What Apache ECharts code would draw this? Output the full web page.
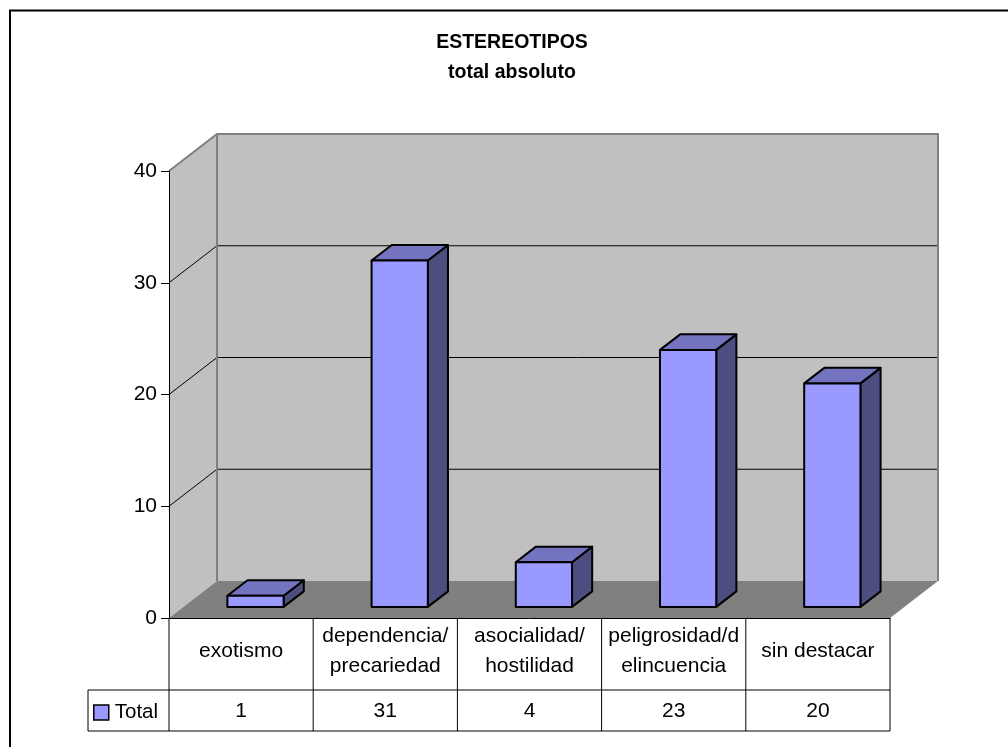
<!DOCTYPE html>
<html>
<head>
<meta charset="utf-8">
<title>ESTEREOTIPOS</title>
<script src="https://cdn.jsdelivr.net/npm/echarts@6/dist/echarts.min.js"></script>
<style>
  html, body { margin: 0; padding: 0; background: #fff; }
  #chart { width: 1008px; height: 747px; }
</style>
</head>
<body>
<div id="chart"></div>
<script>
// Data
const categories = ['exotismo', 'dependencia/\nprecariedad', 'asocialidad/\nhostilidad', 'peligrosidad/d\nelincuencia', 'sin destacar'];
const totals = [1, 31, 4, 23, 20];
const yTicks = [0, 10, 20, 30, 40];
const seriesName = 'Total';
const titleText = 'ESTEREOTIPOS\ntotal absoluto';

// Styling / 3D box geometry
const FONT = '"Liberation Sans", Arial, Helvetica, sans-serif';
const DEPTH_X = 48, DEPTH_Y = -37;          // oblique offset from front plane to back wall
const BAR_FRONT = 0.30, BAR_DEPTH = 0.42;   // bar position inside the floor depth
const BAR_WIDTH = 0.39;                     // fraction of category band
const ROW1 = 72, ROW2 = 113, LEGEND_CELL = 81; // data table rows / legend cell

const yMin = yTicks[0], yMax = yTicks[yTicks.length - 1];

// Walls, floor, gridlines and the data table grid
function renderBox(params, api) {
  const cs = params.coordSys;
  const x0 = cs.x, x1 = cs.x + cs.width;
  const yTop = cs.y, yBase = cs.y + cs.height;
  const bx0 = x0 + DEPTH_X, bx1 = x1 + DEPTH_X;
  const kids = [];
  kids.push({ type: 'rect', shape: { x: bx0, y: yTop + DEPTH_Y, width: bx1 - bx0, height: yBase - yTop },
    style: { fill: '#C0C0C0' } });
  kids.push({ type: 'polygon', shape: { points: [[x0, yTop], [bx0, yTop + DEPTH_Y], [bx0, yBase + DEPTH_Y], [x0, yBase]] },
    style: { fill: '#C0C0C0' } });
  kids.push({ type: 'polygon', shape: { points: [[x0, yBase], [x1, yBase], [bx1, yBase + DEPTH_Y], [bx0, yBase + DEPTH_Y]] },
    style: { fill: '#808080' } });
  yTicks.forEach(function (v) {
    if (v === yMin || v === yMax) return;
    const y = api.coord([0, v])[1];
    kids.push({ type: 'polyline', shape: { points: [[x0, y], [bx0, y + DEPTH_Y], [bx1, y + DEPTH_Y]] },
      style: { stroke: '#000', lineWidth: 1, fill: null } });
  });
  // wall edges
  kids.push({ type: 'polyline', shape: { points: [[x0, yTop], [bx0, yTop + DEPTH_Y], [bx1, yTop + DEPTH_Y], [bx1, yBase + DEPTH_Y]] },
    style: { stroke: '#808080', lineWidth: 2, fill: null } });
  kids.push({ type: 'line', shape: { x1: bx0, y1: yTop + DEPTH_Y, x2: bx0, y2: yBase + DEPTH_Y },
    style: { stroke: '#808080', lineWidth: 2 } });

  // data table lines
  const band = api.size([1, 0])[0];
  const tl = { stroke: '#000', lineWidth: 1 };
  [ROW1, ROW2].forEach(function (r) {
    kids.push({ type: 'line', shape: { x1: x0 - LEGEND_CELL, y1: yBase + r, x2: x1, y2: yBase + r }, style: tl });
  });
  for (let i = 0; i <= categories.length; i++) {
    const x = (i < categories.length ? api.coord([i, 0])[0] - band / 2 : api.coord([i - 1, 0])[0] + band / 2);
    kids.push({ type: 'line', shape: { x1: x, y1: yBase, x2: x, y2: yBase + ROW2 }, style: tl });
  }
  kids.push({ type: 'line', shape: { x1: x0 - LEGEND_CELL, y1: yBase + ROW1, x2: x0 - LEGEND_CELL, y2: yBase + ROW2 }, style: tl });
  return { type: 'group', children: kids };
}

// 3D column: side, top and front faces
function renderBar(params, api) {
  const i = api.value(0), v = api.value(1);
  const top = api.coord([i, v]);
  const base = api.coord([i, 0]);
  const w = api.size([1, 0])[0] * BAR_WIDTH;
  const fx = top[0] - w / 2 + BAR_FRONT * DEPTH_X;
  const fyTop = top[1] + BAR_FRONT * DEPTH_Y;
  const fyBase = base[1] + BAR_FRONT * DEPTH_Y;
  const dx = BAR_DEPTH * DEPTH_X, dy = BAR_DEPTH * DEPTH_Y;
  const edge = { stroke: '#000', lineWidth: 2, lineJoin: 'round' };
  return {
    type: 'group',
    children: [
      { type: 'polygon', shape: { points: [[fx + w, fyTop], [fx + w + dx, fyTop + dy], [fx + w + dx, fyBase + dy], [fx + w, fyBase]] },
        style: Object.assign({ fill: '#4D4D80' }, edge) },
      { type: 'polygon', shape: { points: [[fx, fyTop], [fx + w, fyTop], [fx + w + dx, fyTop + dy], [fx + dx, fyTop + dy]] },
        style: Object.assign({ fill: '#7373BF' }, edge) },
      { type: 'rect', shape: { x: fx, y: fyTop, width: w, height: fyBase - fyTop },
        style: Object.assign({ fill: '#9999FF' }, edge) }
    ]
  };
}

const chart = echarts.init(document.getElementById('chart'), null, { renderer: 'canvas' });
chart.setOption({
  animation: false,
  backgroundColor: '#fff',
  textStyle: { fontFamily: FONT },
  title: {
    text: titleText,
    left: 512, top: 28, padding: 0,
    textAlign: 'center',
    textStyle: { fontFamily: FONT, fontSize: 19.5, fontWeight: 'bold', lineHeight: 30, color: '#000' }
  },
  graphic: [{
    type: 'rect', silent: true, z: 100,
    shape: { x: 10, y: 10.5, width: 1100, height: 800 },
    style: { fill: null, stroke: '#000', lineWidth: 2 }
  }],
  legend: {
    data: [{ name: seriesName, icon: 'rect',
      itemStyle: { color: '#9999FF', borderColor: '#000', borderWidth: 1.5 } }],
    left: 93, top: 702, padding: 0,
    itemWidth: 15, itemHeight: 15, itemGap: 6,
    selectedMode: false,
    textStyle: { fontFamily: FONT, fontSize: 20.5, color: '#000', padding: [0, 0, 0, 1] }
  },
  grid: { left: 169, right: 118, top: 171, bottom: 129, containLabel: false },
  xAxis: [{
    type: 'category', data: categories, z: 10,
    axisLine: { show: true, lineStyle: { color: '#000', width: 1 } },
    axisTick: { show: false },
    axisLabel: { interval: 0, margin: 33, verticalAlign: 'middle', fontFamily: FONT, fontSize: 21, lineHeight: 30, color: '#000' },
    splitLine: { show: false }
  }, {
    type: 'category', data: totals.map(String), position: 'bottom', z: 10,
    axisLine: { show: false }, axisTick: { show: false },
    axisLabel: { interval: 0, margin: 93, verticalAlign: 'middle', fontFamily: FONT, fontSize: 21, color: '#000' },
    splitLine: { show: false }
  }],
  yAxis: {
    type: 'value', min: yMin, max: yMax, interval: 10, z: 10,
    axisLine: { show: true, lineStyle: { color: '#000', width: 1 } },
    axisTick: { show: true, length: 8, lineStyle: { color: '#000' } },
    axisLabel: { margin: 12, fontFamily: FONT, fontSize: 21, color: '#000' },
    splitLine: { show: false }
  },
  series: [{
    type: 'custom', name: 'box', z: 1, silent: true,
    renderItem: renderBox, data: [[0, 0]], encode: { x: 0, y: 1 }
  }, {
    type: 'custom', name: seriesName, z: 3,
    itemStyle: { color: '#9999FF' },
    renderItem: renderBar,
    data: totals.map(function (v, i) { return [i, v]; }),
    encode: { x: 0, y: 1 }
  }]
});
</script>
</body>
</html>
